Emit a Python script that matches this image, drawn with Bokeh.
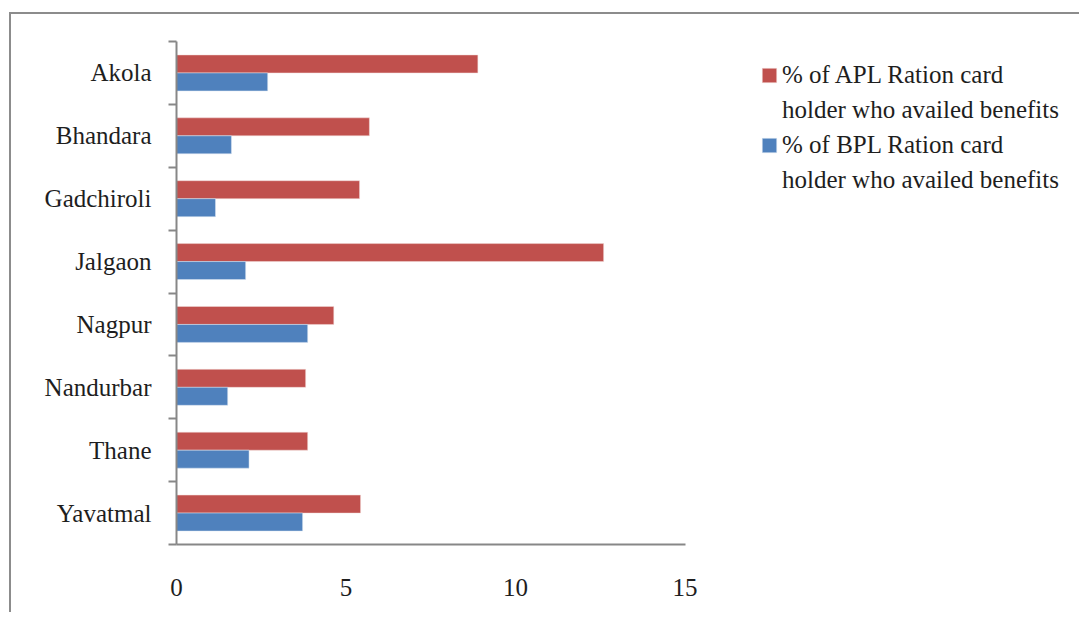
from bokeh.plotting import figure
from bokeh.models import (Range1d, FixedTicker, Legend, LegendItem, ColumnDataSource)
from bokeh.transform import dodge
from bokeh.embed import file_html
from bokeh.resources import INLINE

# ---- data ----
districts = ["Akola", "Bhandara", "Gadchiroli", "Jalgaon",
             "Nagpur", "Nandurbar", "Thane", "Yavatmal"]
apl = [8.89, 5.69, 5.40, 12.60, 4.64, 3.81, 3.87, 5.43]
bpl = [2.69, 1.62, 1.15, 2.04, 3.87, 1.51, 2.14, 3.72]
x_ticks = [0, 5, 10, 15]
apl_label = ["% of APL Ration card", "holder who availed benefits"]
bpl_label = ["% of BPL Ration card", "holder who availed benefits"]

FONT = "Liberation Serif"
FS = "25px"
TXT = "#1e1e1e"
AXIS = "#878787"
RED = "#C0504D"
BLUE = "#4F81BD"

# layout (pixels)
W, H = 1070, 600
BL, BT, BB = 165, 27, 70
AXIS_PX = 508.5                      # pixel length of the 0..15 value axis
FRAME_W = W - BL                     # frame runs to the right edge (legend lives there)
x_end = x_ticks[-1] * FRAME_W / AXIS_PX

n = len(districts)
# category slot index (first district at the top)
slot = [n - i - 0.5 for i in range(n)]
src = ColumnDataSource(dict(district=districts, slot=slot, apl=apl, bpl=bpl))

p = figure(width=W, height=H,
           y_range=Range1d(0, n),
           x_range=Range1d(x_ticks[0], x_end),
           output_backend="svg", toolbar_location=None,
           x_axis_location="below", y_axis_location="left",
           min_border_left=BL, min_border_right=0,
           min_border_top=BT, min_border_bottom=BB)
p.outline_line_color = None
p.xgrid.visible = False
p.ygrid.visible = False
p.background_fill_color = "white"
p.border_fill_color = "white"
p.margin = (12, 0, 0, 9)
p.styles = {"border-left": "2px solid #8c8c8c", "border-top": "2px solid #8c8c8c"}

bar_h = 0.286
r_apl = p.hbar(y=dodge("slot", bar_h / 2), right="apl", left=0,
               height=bar_h, source=src, fill_color=RED, line_color="#f2dcdb", line_width=0.5)
r_bpl = p.hbar(y=dodge("slot", -bar_h / 2), right="bpl", left=0,
               height=bar_h, source=src, fill_color=BLUE, line_color="#dbe5f1", line_width=0.5)
r_blank = p.hbar(y=[], right=[], height=bar_h, fill_alpha=0, line_alpha=0)

# x axis (drawn only over 0..15)
xa = p.xaxis[0]
xa.bounds = (x_ticks[0], x_ticks[-1])
xa.ticker = FixedTicker(ticks=x_ticks)
xa.axis_line_color = AXIS
xa.axis_line_width = 2
xa.major_tick_line_color = None
xa.minor_tick_line_color = None
xa.major_tick_out = 0
xa.major_tick_in = 0
xa.major_label_standoff = 34
xa.major_label_text_font = FONT
xa.major_label_text_font_size = FS
xa.major_label_text_color = TXT

# y axis: labels at category centres, tick marks at category boundaries
ya = p.yaxis[0]
ya.ticker = FixedTicker(ticks=slot, minor_ticks=list(range(n + 1)))
ya.major_label_overrides = {s: name for s, name in zip(slot, districts)}
ya.axis_line_color = AXIS
ya.axis_line_width = 2
ya.major_tick_line_color = None
ya.major_tick_out = 0
ya.major_tick_in = 0
ya.minor_tick_line_color = AXIS
ya.minor_tick_line_width = 2
ya.minor_tick_out = 8
ya.minor_tick_in = 0
ya.major_label_standoff = 17
ya.major_label_text_font = FONT
ya.major_label_text_font_size = FS
ya.major_label_text_color = TXT

legend = Legend(items=[
    LegendItem(label=apl_label[0], renderers=[r_apl]),
    LegendItem(label=apl_label[1], renderers=[r_blank]),
    LegendItem(label=bpl_label[0], renderers=[r_bpl]),
    LegendItem(label=bpl_label[1], renderers=[r_blank]),
])
legend.location = (584, 350)
legend.margin = 0
legend.padding = 0
legend.spacing = 6
legend.glyph_width = 18
legend.glyph_height = 18
legend.label_height = 29
legend.label_standoff = 4
legend.label_text_font = "'Liberation Serif', serif"
legend.label_text_font_size = FS
legend.label_text_color = TXT
legend.border_line_color = None
legend.background_fill_alpha = 0
p.add_layout(legend, "center")

open("out.html", "w").write(file_html(p, INLINE))
